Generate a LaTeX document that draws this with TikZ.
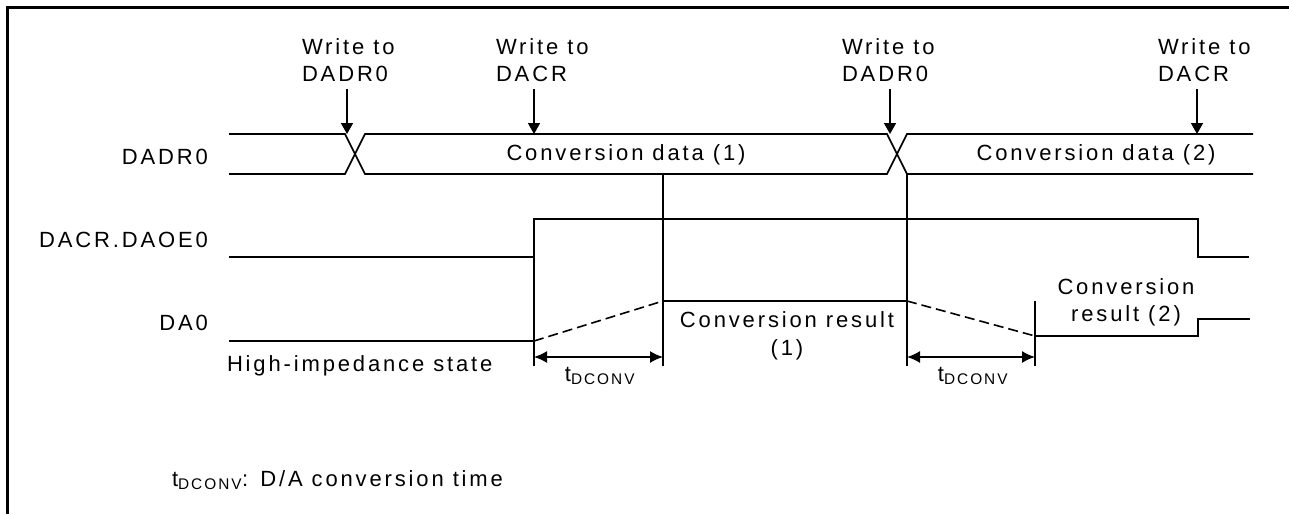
\documentclass[tikz,border=0pt]{standalone}
\usepackage{fontspec}
\setmainfont[LetterSpace=13]{Liberation Sans}
\usetikzlibrary{arrows.meta,calc}

\begin{document}
\begin{tikzpicture}[
    x=1pt, y=-1pt,
    font=\fontsize{22}{27}\selectfont,
    sig/.style={line width=1.6pt},
    hiz/.style={line width=1.6pt, dash pattern=on 10pt off 5pt},
    wr/.style={-{Triangle[length=11pt,width=12pt]}, line width=1.6pt},
    dim/.style={{Latex[length=13pt,width=12pt]}-{Latex[length=13pt,width=12pt]}, line width=1.6pt},
    txt/.style={inner sep=0pt, outer sep=0pt},
    wlabel/.style={txt, align=left, anchor=south west},
    siglabel/.style={txt, anchor=east}
]
\useasboundingbox (0,0) rectangle (1289,514);

% frame
\draw[line width=3pt] (1289,7) -- (7,7) -- (7,514);

% signal names
\node[siglabel] (lbus) at (208,157) {DADR0};
\node[siglabel] (loe) at (208,240) {DACR.DAOE0};
\node[siglabel] (lda) at (208,323) {DA0};

% write events
\node[wlabel] (wr1) at (302,82) {Write to\\DADR0};
\node[wlabel] (wr2) at (496,82) {Write to\\DACR};
\node[wlabel] (wr3) at (842,82) {Write to\\DADR0};
\node[wlabel] (wr4) at (1158,82) {Write to\\DACR};
\coordinate (w1) at (347,134);
\coordinate (w2) at (534,134);
\coordinate (w3) at (890,134);
\coordinate (w4) at (1197,134);
\draw[wr] ($(wr1.south -| w1)+(0,7)$) -- (w1);
\draw[wr] ($(wr2.south -| w2)+(0,7)$) -- (w2);
\draw[wr] ($(wr3.south -| w3)+(0,7)$) -- (w3);
\draw[wr] ($(wr4.south -| w4)+(0,7)$) -- (w4);

% DADR0 bus
\draw[sig] (229,134) -- (345,134) -- (365,174) -- (887,174) -- (907,134) -- (1253,134);
\draw[sig] (229,174) -- (345,174) -- (365,134) -- (887,134) -- (907,174) -- (1253,174);
\node[txt] (dat1) at (626,155) {Conversion data (1)};
\node[txt] (dat2) at (1096,155) {Conversion data (2)};

% DACR.DAOE0
\draw[sig] (229,257) -- (534,257) -- (534,219) -- (1198,219) -- (1198,257) -- (1249,257);

% timing marks
\draw[sig] (534,257) -- (534,366);
\draw[sig] (663,174) -- (663,366);
\draw[sig] (907,174) -- (907,366);
\draw[sig] (1035,301) -- (1035,366);

% DA0
\draw[sig] (229,341) -- (534,341);
\draw[hiz] (534,341) -- (663,301);
\draw[sig] (663,301) -- (907,301);
\draw[hiz] (907,301) -- (1035,336);
\draw[sig] (1035,336) -- (1198,336) -- (1198,319) -- (1250,319);
\node[txt, anchor=west] (hiz) at (227,366) {High-impedance state};
\node[txt, align=center, font=\fontsize{22}{28}\selectfont] (res1) at (787,336) {Conversion result\\(1)};
\node[txt, align=center] (res2) at (1126,302) {Conversion\\result (2)};

% conversion time
\draw[dim] (534,357) -- (663,357);
\draw[dim] (907,357) -- (1035,357);
\node[txt, anchor=north] (td1) at (600,367) {t\textsubscript{DCONV}};
\node[txt, anchor=north] (td2) at (973,367) {t\textsubscript{DCONV}};

% note
\node[txt, anchor=west] (note) at (172,480) {t\textsubscript{DCONV}: D/A conversion time};

\end{tikzpicture}
\end{document}
